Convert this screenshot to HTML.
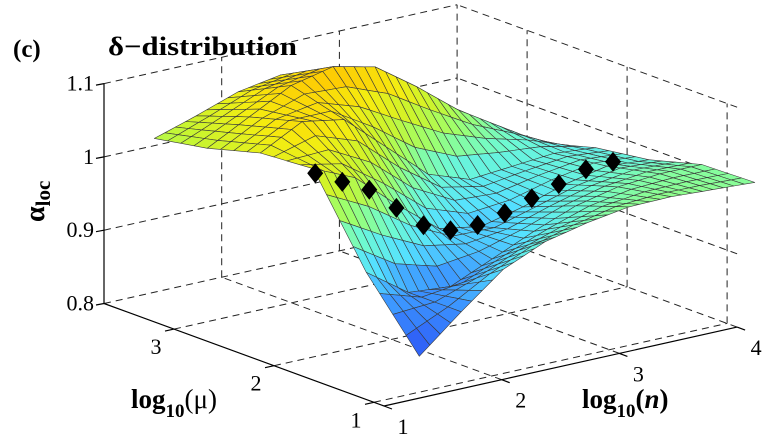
<!DOCTYPE html>
<html>
<head>
<meta charset="utf-8">
<style>
  html,body{margin:0;padding:0;background:#fff;}
  svg{display:block;}
  text{font-family:"Liberation Serif","DejaVu Serif",serif;fill:#000;}
</style>
</head>
<body>
<svg id="chart" width="772" height="442" viewBox="0 0 772 442" xmlns="http://www.w3.org/2000/svg">
  <g id="grid"></g>
  <g id="axes"></g>
  <g id="surface"></g>
  <g id="markers"></g>
  <g id="labels"></g>
  <text x="13" y="57" font-size="25" font-weight="bold">(c)</text>
  <text x="108" y="55" font-size="26" font-weight="bold" textLength="189" lengthAdjust="spacingAndGlyphs">δ−distribution</text>
  <text transform="translate(44,222) rotate(-90)" font-size="28" font-weight="bold">α<tspan font-size="21" dy="6">loc</tspan></text>
  <text x="131" y="408" font-size="27" font-weight="bold">log<tspan font-size="19" dy="9">10</tspan><tspan dy="-9" font-weight="normal">(μ)</tspan></text>
  <text x="582" y="408" font-size="27" font-weight="bold">log<tspan font-size="19" dy="9">10</tspan><tspan dy="-9">(<tspan font-style="italic">n</tspan>)</tspan></text>
</svg>
<script>
// ---- data ----
const nCols = [1.3, 1.656, 2.013, 2.369, 2.725, 3.081, 3.438, 3.794, 4.15];
const muRows = [0.9, 1.43, 1.96, 2.49, 3.02, 3.55];
const alphaMu090 = [0.857, 0.905, 0.950, 0.975, 0.988, 0.997, 0.998, 0.995, 0.992];
const alphaMu143 = [0.945, 0.905, 0.900, 0.925, 0.950, 0.972, 0.985, 0.990, 0.990];
const alphaMu196 = [1.060, 1.035, 0.985, 0.940, 0.930, 0.944, 0.962, 0.974, 0.970];
const alphaMu249 = [1.055, 1.085, 1.075, 1.025, 0.975, 0.955, 0.960, 0.965, 0.960];
const alphaMu302 = [1.035, 1.065, 1.095, 1.108, 1.095, 1.055, 1.010, 0.975, 0.940];
const alphaMu355 = [1.022, 1.040, 1.060, 1.070, 1.065, 1.045, 1.020, 0.960, 0.920];
const alphaRows = [alphaMu090, alphaMu143, alphaMu196, alphaMu249, alphaMu302, alphaMu355];
const markerMu = 2.0;
const markerN = [1.35, 1.58, 1.81, 2.04, 2.27, 2.5, 2.73, 2.96, 3.19, 3.42, 3.65, 3.88];
const markerAlpha = [1.050, 1.030, 1.011, 0.978, 0.946, 0.931, 0.930, 0.938, 0.950, 0.961, 0.973, 0.975];
const zTicks = [0.8, 0.9, 1.0, 1.1];
const zTickLabels = ["0.8", "0.9", "1", "1.1"];
const muTicks = [1, 2, 3];
const muTickLabels = ["1", "2", "3"];
const nTicks = [1, 2, 3, 4];
const nTickLabels = ["1", "2", "3", "4"];

// ---- axes (box) ----
const N0 = 1, N1 = 4, M0 = 0.9, M1 = 3.7, Z0 = 0.8, Z1 = 1.1;
function P(n, m, z) {
  return [384 + 117.7 * (n - 1) - 100 * (m - M0),
          406 - 26.3 * (n - 1) - 36.6 * (m - M0) - (z - Z0) * 733];
}
const NS = "http://www.w3.org/2000/svg";
function line(g, a, b, dashed, name, w) {
  const l = document.createElementNS(NS, "line");
  l.setAttribute("x1", a[0].toFixed(1)); l.setAttribute("y1", a[1].toFixed(1));
  l.setAttribute("x2", b[0].toFixed(1)); l.setAttribute("y2", b[1].toFixed(1));
  l.setAttribute("stroke", dashed ? "#222" : "#000");
  l.setAttribute("stroke-width", w || 1);
  if (dashed) l.setAttribute("stroke-dasharray", "7 5");
  
  
  g.appendChild(l);
}
const grid = document.getElementById("grid");
[2, 3, 4].forEach(n => line(grid, P(n, M0, Z0), P(n, M1, Z0), true, "floor-gridline-n"));
[1, 2, 3, M1].forEach(m => line(grid, P(N0, m, Z0), P(N1, m, Z0), true, "floor-gridline-mu"));
[2, 3, 4].forEach(n => line(grid, P(n, M1, Z0), P(n, M1, Z1), true, "wall-gridline-n"));
[0.9, 1.0, 1.1].forEach(z => line(grid, P(N0, M1, z), P(N1, M1, z), true, "wall-gridline-z"));
[1, 2, 3].forEach(m => line(grid, P(N1, m, Z0), P(N1, m, Z1), true, "wall-gridline-mu"));
[0.9, 1.0, 1.1].forEach(z => line(grid, P(N1, M0, z), P(N1, M1, z), true, "wall-gridline-z"));

const axes = document.getElementById("axes");
line(axes, P(N0, M1, Z0), P(N0, M1, Z1), false, "z-axis-line", 1.2);
line(axes, P(N0, M1, Z0), P(N0, M0, Z0), false, "mu-axis-line", 1.2);
line(axes, P(N0, M0, Z0), P(N1, M0, Z0), false, "n-axis-line", 1.2);

const labels = document.getElementById("labels");
function txt(x, y, s, anchor, name) {
  const t = document.createElementNS(NS, "text");
  t.setAttribute("x", x.toFixed(1)); t.setAttribute("y", y.toFixed(1));
  t.setAttribute("font-size", "22");
  t.setAttribute("text-anchor", anchor);
  t.textContent = s;
  
  
  labels.appendChild(t);
}
zTicks.forEach((z, i) => {
  const p = P(N0, M1, z);
  line(axes, p, [p[0] - 8, p[1] + 1.5], false, "z-tick", 1.2);
  txt(p[0] - 10, p[1] + 7, zTickLabels[i], "end", "z-tick-label");
});
muTicks.forEach((m, i) => {
  const p = P(N0, m, Z0);
  line(axes, p, [p[0] - 9, p[1] + 2], false, "mu-tick", 1.2);
  txt(p[0] - 18, p[1] + 25, muTickLabels[i], "middle", "mu-tick-label");
});
nTicks.forEach((n, i) => {
  const p = P(n, M0, Z0);
  line(axes, p, [p[0] + 8, p[1] + 3], false, "n-tick", 1.2);
  txt(p[0] + 19, p[1] + 28, nTickLabels[i], "middle", "n-tick-label");
});

// ---- surface ----
const stops = [[0, [42, 76, 245]], [0.22, [60, 150, 255]], [0.36, [85, 225, 255]], [0.48, [110, 250, 210]],
  [0.6, [156, 255, 110]], [0.72, [200, 245, 48]], [0.85, [245, 236, 16]], [1, [255, 196, 0]]];
const zmin = 0.855, zmax = 1.105;
function color(z) {
  let t = Math.max(0, Math.min(1, (z - zmin) / (zmax - zmin)));
  for (let k = 1; k < stops.length; k++) {
    if (t <= stops[k][0]) {
      const a = stops[k - 1], b = stops[k], f = (t - a[0]) / (b[0] - a[0]);
      const c = a[1].map((v, i) => Math.round(v + (b[1][i] - v) * f));
      return "rgb(" + c.join(",") + ")";
    }
  }
  return "rgb(255,196,0)";
}
const surf = document.getElementById("surface");
const S = 4, quads = [];
for (let j = 0; j < muRows.length - 1; j++) {
  for (let i = 0; i < nCols.length - 1; i++) {
    const z00 = alphaRows[j][i], z10 = alphaRows[j][i + 1], z01 = alphaRows[j + 1][i], z11 = alphaRows[j + 1][i + 1];
    const pt = (u, v) => {
      const n = nCols[i] + (nCols[i + 1] - nCols[i]) * u;
      const m = muRows[j] + (muRows[j + 1] - muRows[j]) * v;
      const z = z00 * (1 - u) * (1 - v) + z10 * u * (1 - v) + z01 * (1 - u) * v + z11 * u * v;
      return [n, m, z];
    };
    for (let b = 0; b < S; b++) for (let a = 0; a < S; a++) {
      const c = [pt(a / S, b / S), pt((a + 1) / S, b / S), pt((a + 1) / S, (b + 1) / S), pt(a / S, (b + 1) / S)];
      const nc = (c[0][0] + c[2][0]) / 2, mc = (c[0][1] + c[2][1]) / 2;
      const zc = (c[0][2] + c[1][2] + c[2][2] + c[3][2]) / 4;
      quads.push({ c, depth: 26.3 * nc + 36.6 * mc, zc });
    }
  }
}
quads.sort((p, q) => q.depth - p.depth);
quads.forEach(q => {
  const poly = document.createElementNS(NS, "polygon");
  poly.setAttribute("points", q.c.map(v => P(v[0], v[1], v[2]).map(x => x.toFixed(1)).join(",")).join(" "));
  poly.setAttribute("fill", color(q.zc));
  poly.setAttribute("stroke", "#3a3a3a");
  poly.setAttribute("stroke-width", "0.6");
  poly.setAttribute("stroke-linejoin", "round");
  
  
  surf.appendChild(poly);
});

// ---- markers ----
const mk = document.getElementById("markers");
markerN.forEach((n, i) => {
  const p = P(n, markerMu, markerAlpha[i]);
  const d = document.createElementNS(NS, "polygon");
  d.setAttribute("points", [[p[0], p[1] - 10], [p[0] + 8, p[1]], [p[0], p[1] + 10], [p[0] - 8, p[1]]].map(v => v.map(x => x.toFixed(1)).join(",")).join(" "));
  d.setAttribute("fill", "#000");
  
  
  mk.appendChild(d);
});
</script>
</body>
</html>
